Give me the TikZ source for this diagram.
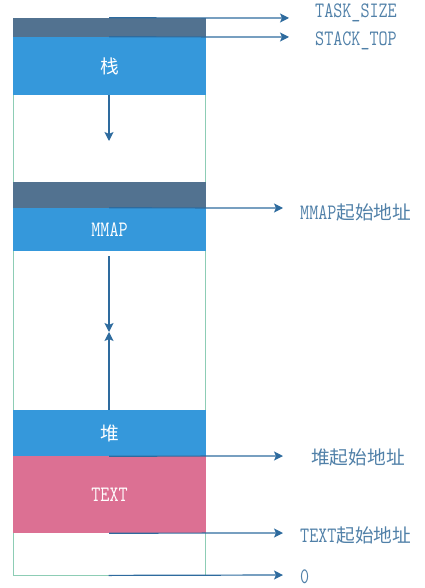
\documentclass[tikz,border=0pt]{standalone}
\usepackage{fontspec}
\setmonofont{Latin Modern Mono}[FakeStretch=0.8]
\newfontfamily\cjk{Noto Sans CJK SC}[Scale=0.85]
\usetikzlibrary{arrows.meta}
\definecolor{bandtop}{HTML}{527290}
\definecolor{bandblue}{HTML}{3598DB}
\definecolor{bandpink}{HTML}{DC7093}
\definecolor{frame}{HTML}{8DCDB5}
\definecolor{arrcol}{HTML}{2E6B9E}
\definecolor{lblcol}{HTML}{5080A8}
\tikzset{
  band/.style={rectangle,inner sep=0pt,minimum width=193pt,text=white},
  lbl/.style={inner sep=0pt,anchor=west,text=lblcol},
  arr/.style={draw=arrcol,line width=1.2pt,-{Stealth[length=9pt,width=9pt,inset=2pt]}},
}
\begin{document}
\begin{tikzpicture}[x=1pt,y=-1pt,font=\ttfamily\fontsize{22}{24}\selectfont]
  \useasboundingbox (0,0) rectangle (424,588);
  \node[draw=frame,line width=0.8pt,minimum width=192pt,minimum height=557pt,inner sep=0pt] (mem) at (109,296.5) {};
  \node[band,fill=bandtop,minimum height=19pt] (topband) at (109.5,27.5) {};
  \node[band,fill=bandblue,minimum height=58pt] (stack) at (109.5,66) {\cjk 栈};
  \node[band,fill=bandtop,minimum height=26pt] (mmaptop) at (109.5,195) {};
  \node[band,fill=bandblue,minimum height=43pt] (mmap) at (109.5,229.5) {MMAP};
  \node[band,fill=bandblue,minimum height=46pt] (heap) at (109.5,433) {\cjk 堆};
  \node[band,fill=bandpink,minimum height=77pt] (text) at (109.5,494.5) {TEXT};
  % labels on the right
  \node[lbl] (tasksize) at (315,13) {TASK\_SIZE};
  \node[lbl] (stacktop) at (315,41) {STACK\_TOP};
  \node[lbl] (mmapstart) at (300,212) {MMAP{\cjk 起始地址}};
  \node[lbl] (heapstart) at (311,457) {\cjk 堆起始地址};
  \node[lbl] (textstart) at (300,535) {TEXT{\cjk 起始地址}};
  \node[lbl] (zero) at (300,577) {0};
  \coordinate (tse) at (289,18);
  \coordinate (ste) at (289,37);
  \coordinate (mse) at (283,208);
  \coordinate (hse) at (283,456);
  \coordinate (txe) at (283,533);
  \coordinate (zre) at (283,575);
  \foreach \s/\e in {topband.north/tse, stack.north/ste, mmap.north/mse, heap.south/hse, text.south/txe, mem.south/zre} {
    \draw[arr] ([xshift=-0.5pt]\s) -- (\e);
  }
  % growth of stack, mmap and heap
  \coordinate (stackend) at (109,141);
  \coordinate (mmapbeg) at (109,256);
  \coordinate (meet) at (109,332);
  \draw[arr] ([xshift=-0.5pt]stack.south) -- (stackend);
  \draw[arr] (mmapbeg) -- (meet);
  \draw[arr] ([xshift=-0.5pt]heap.north) -- (meet);
\end{tikzpicture}
\end{document}
